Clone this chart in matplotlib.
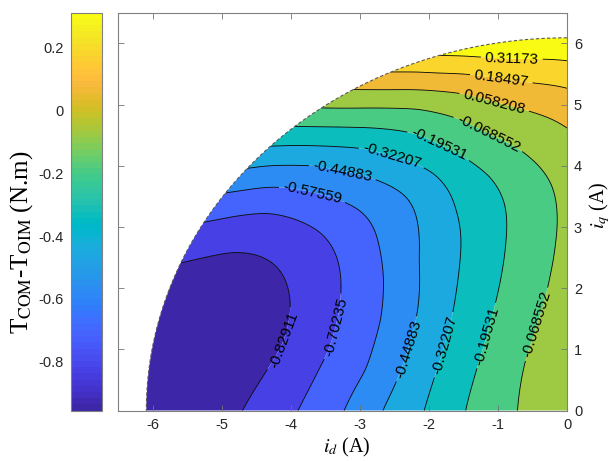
import numpy as np
import matplotlib
matplotlib.use("Agg")
import matplotlib.pyplot as plt
from matplotlib.colors import ListedColormap, Normalize
from matplotlib.patches import Polygon
from matplotlib.ticker import FuncFormatter
import matplotlib.cm as cm

plt.rcParams["font.family"] = ["Liberation Sans", "DejaVu Sans"]
plt.rcParams["axes.unicode_minus"] = False
plt.rcParams["mathtext.fontset"] = "stix"

# ---- contour levels (as labelled) and colour limits ----
levels = [-0.82911, -0.70235, -0.57559, -0.44883, -0.32207,
          -0.19531, -0.068552, 0.058208, 0.18497, 0.31173]
c_min, c_max = -0.95587, 0.31173
i_max = 6.09          # current-limit circle radius (A)

# ---- traced level curves: (i_d, i_q) points on each level ----
l1_id = [-5.60, -4.87, -4.39, -4.05, -4.00, -4.10, -4.34, -4.70]
l1_iq = [2.41, 2.60, 2.49, 2.03, 1.65, 1.10, 0.67, 0.00]
l2_id = [-5.25, -4.82, -4.35, -3.61, -3.32, -3.28, -3.37, -3.61, -3.90]
l2_iq = [3.07, 3.18, 3.24, 2.95, 2.46, 1.97, 1.37, 0.67, 0.00]
l3_id = [-4.92, -4.34, -3.70, -3.00, -2.74, -2.65, -2.69, -2.89, -3.22]
l3_iq = [3.55, 3.66, 3.55, 3.28, 2.74, 2.19, 1.48, 0.67, 0.00]
l4_id = [-4.63, -4.34, -3.66, -3.25, -2.69, -2.31, -2.21, -2.16, -2.16, -2.36, -2.69]
l4_iq = [3.94, 4.01, 4.02, 3.90, 3.74, 3.50, 3.28, 2.46, 1.65, 0.83, 0.00]
l5_id = [-4.30, -3.65, -3.03, -2.54, -2.16, -1.92, -1.68, -1.63, -1.53, -1.61, -1.77, -2.06]
l5_iq = [4.31, 4.32, 4.31, 4.14, 4.02, 3.90, 3.50, 3.28, 2.74, 1.92, 1.10, 0.00]
l6_id = [-3.95, -3.10, -2.31, -1.87, -1.44, -1.10, -0.90, -0.89, -1.00, -1.19, -1.48]
l6_iq = [4.64, 4.62, 4.56, 4.31, 4.10, 3.82, 3.39, 2.74, 1.92, 1.10, 0.00]
l7_id = [-3.54, -2.85, -2.16, -1.63, -1.15, -0.52, -0.23, -0.15, -0.17, -0.25, -0.42, -0.61, -0.71]
l7_iq = [4.94, 4.95, 4.94, 4.80, 4.50, 4.10, 3.72, 3.28, 2.74, 2.19, 1.48, 0.83, 0.00]
l8_id = [-3.10, -2.16, -1.53, -1.05, -0.56, -0.25, 0.00]
l8_iq = [5.24, 5.24, 5.19, 5.05, 4.90, 4.78, 4.62]
l9_id = [-2.58, -2.16, -1.44, -0.95, -0.52, 0.00]
l9_iq = [5.52, 5.54, 5.51, 5.43, 5.35, 5.28]
l10_id = [-1.92, -1.29, -0.80, -0.30, 0.00]
l10_iq = [5.78, 5.76, 5.74, 5.74, 5.73]

# ---- spot values away from the level curves ----
spot_id = [0.00, 0.00, 0.00, 0.00, -6.05, -5.20]
spot_iq = [0.00, 1.50, 3.00, 6.09, 0.50, 1.30]
spot_val = [0.035, -0.01, -0.045, 0.43849, -0.95, -0.93]

# ---- contour label anchor points ----
label_id = [-0.80, -0.95, -1.06, -1.15, -1.87, -2.54, -3.25, -3.69,
            -3.36, -4.12, -2.35, -1.76, -1.15, -0.41]
label_iq = [5.74, 5.43, 5.01, 4.50, 4.31, 4.14, 3.90, 3.54,
            1.37, 1.16, 1.02, 1.07, 1.22, 1.40]

# MATLAB-style parula colour table
parula = [
    (0.2422, 0.1504, 0.6603), (0.2504, 0.1650, 0.7076), (0.2578, 0.1818, 0.7511), (0.2647, 0.1978, 0.7952),
    (0.2706, 0.2147, 0.8364), (0.2751, 0.2342, 0.8710), (0.2783, 0.2559, 0.8991), (0.2803, 0.2782, 0.9221),
    (0.2813, 0.3006, 0.9414), (0.2810, 0.3228, 0.9579), (0.2795, 0.3447, 0.9717), (0.2760, 0.3667, 0.9829),
    (0.2699, 0.3892, 0.9906), (0.2602, 0.4123, 0.9952), (0.2440, 0.4358, 0.9988), (0.2206, 0.4603, 0.9973),
    (0.1963, 0.4847, 0.9892), (0.1834, 0.5074, 0.9798), (0.1786, 0.5289, 0.9682), (0.1764, 0.5499, 0.9520),
    (0.1687, 0.5703, 0.9359), (0.1540, 0.5902, 0.9218), (0.1460, 0.6091, 0.9079), (0.1380, 0.6276, 0.8973),
    (0.1248, 0.6459, 0.8883), (0.1113, 0.6635, 0.8763), (0.0952, 0.6798, 0.8598), (0.0689, 0.6948, 0.8394),
    (0.0297, 0.7082, 0.8163), (0.0036, 0.7203, 0.7917), (0.0067, 0.7312, 0.7660), (0.0433, 0.7411, 0.7394),
    (0.0964, 0.7500, 0.7120), (0.1408, 0.7584, 0.6842), (0.1717, 0.7670, 0.6554), (0.1938, 0.7758, 0.6251),
    (0.2161, 0.7843, 0.5923), (0.2470, 0.7918, 0.5567), (0.2906, 0.7973, 0.5188), (0.3406, 0.8008, 0.4789),
    (0.3909, 0.8029, 0.4354), (0.4456, 0.8024, 0.3909), (0.5044, 0.7993, 0.3480), (0.5616, 0.7942, 0.3045),
    (0.6174, 0.7876, 0.2612), (0.6720, 0.7793, 0.2227), (0.7242, 0.7698, 0.1910), (0.7738, 0.7598, 0.1646),
    (0.8203, 0.7498, 0.1535), (0.8634, 0.7406, 0.1596), (0.9035, 0.7330, 0.1774), (0.9393, 0.7288, 0.2100),
    (0.9728, 0.7298, 0.2394), (0.9956, 0.7434, 0.2371), (0.9970, 0.7659, 0.2199), (0.9952, 0.7893, 0.2028),
    (0.9892, 0.8136, 0.1885), (0.9786, 0.8386, 0.1766), (0.9676, 0.8639, 0.1643), (0.9610, 0.8890, 0.1537),
    (0.9597, 0.9135, 0.1423), (0.9628, 0.9373, 0.1265), (0.9691, 0.9606, 0.1064), (0.9769, 0.9839, 0.0805),
]
cmap = ListedColormap(parula, name="parula")

# ---- smooth surface through the traced level points (thin-plate spline) ----
traces = [(l1_id, l1_iq), (l2_id, l2_iq), (l3_id, l3_iq), (l4_id, l4_iq), (l5_id, l5_iq),
          (l6_id, l6_iq), (l7_id, l7_iq), (l8_id, l8_iq), (l9_id, l9_iq), (l10_id, l10_iq)]
px, py, pz = [], [], []
for lev, (tx, ty) in zip(levels, traces):
    px += tx
    py += ty
    pz += [lev] * len(tx)
px = np.array(px + spot_id, float)
py = np.array(py + spot_iq, float)
pz = np.array(pz + spot_val, float)


def tps_kernel(r):
    with np.errstate(divide="ignore", invalid="ignore"):
        k = r ** 2 * np.log(r)
    return np.where(r > 0, k, 0.0)


n = len(px)
d = np.hypot(px[:, None] - px[None, :], py[:, None] - py[None, :])
A = np.zeros((n + 3, n + 3))
A[:n, :n] = tps_kernel(d) + 0.2 * np.eye(n)
P = np.column_stack([np.ones(n), px, py])
A[:n, n:] = P
A[n:, :n] = P.T
coef = np.linalg.solve(A, np.concatenate([pz, np.zeros(3)]))
w, a = coef[:n], coef[n:]

gid = np.linspace(-6.5, 0.0, 330)
giq = np.linspace(0.0, 6.5, 330)
ID, IQ = np.meshgrid(gid, giq)
Z = a[0] + a[1] * ID + a[2] * IQ
for k in range(n):
    Z += w[k] * tps_kernel(np.hypot(ID - px[k], IQ - py[k]))

# ---- figure ----
fig = plt.figure(figsize=(6.14, 4.61), dpi=100)
ax = fig.add_axes([118 / 614, 1 - 410.7 / 461, 449 / 614, 398 / 461])
cax = fig.add_axes([71 / 614, 1 - 410.7 / 461, 30.7 / 614, 398 / 461])

norm = Normalize(c_min, c_max)
band_edges = [-50.0] + levels + [50.0]
band_colors = [cmap(norm(v)) for v in [c_min] + levels]

theta = np.linspace(np.pi / 2, np.pi, 400)
sector = np.vstack([[0.0, 0.0], np.column_stack([i_max * np.cos(theta), i_max * np.sin(theta)])])
clip = Polygon(sector, closed=True, transform=ax.transData, facecolor="none", edgecolor="none")

cf = ax.contourf(ID, IQ, Z, levels=band_edges, colors=band_colors, antialiased=True)
cf.set_clip_path(clip)
cl = ax.contour(ID, IQ, Z, levels=levels, colors="k", linewidths=0.6, linestyles="solid")
cl.set_clip_path(clip)
ax.clabel(cl, levels, inline=True, inline_spacing=4, fontsize=11,
          fmt=lambda v: f"{v:.5g}", manual=list(zip(label_id, label_iq)))

ax.plot(i_max * np.cos(theta), i_max * np.sin(theta), color="0.35", lw=0.8,
        ls=(0, (3, 2)))

ax.set_xlim(-6.5, 0)
ax.set_ylim(0, 6.5)
ax.set_xticks([-6, -5, -4, -3, -2, -1, 0])
ax.set_yticks([0, 1, 2, 3, 4, 5, 6])
ax.yaxis.tick_right()
ax.tick_params(which="both", direction="in", length=4, width=0.6, colors="0.45",
               labelcolor="#262626", labelsize=10.5, top=True, left=True, right=True,
               bottom=True, pad=5)
for s in ax.spines.values():
    s.set_color("0.5")
    s.set_linewidth(0.8)

fig.text(347 / 614, 1 - 452 / 461, r"$i_d$ (A)", family="Liberation Serif",
         fontsize=14.5, ha="center", va="baseline")
fig.text(600 / 614, 1 - 205 / 461, r"$i_q$ (A)", family="Liberation Serif",
         fontsize=14.5, ha="center", va="center", rotation=90)

cb = fig.colorbar(cm.ScalarMappable(norm=norm, cmap=cmap), cax=cax)
cb.set_ticks([0.2, 0, -0.2, -0.4, -0.6, -0.8])
cb.ax.yaxis.set_major_formatter(FuncFormatter(lambda v, p: f"{v:g}"))
cb.ax.yaxis.set_ticks_position("left")
cb.ax.tick_params(direction="in", length=0, labelcolor="#262626", labelsize=10.5, pad=5)
cb.outline.set_edgecolor("0.5")
cb.outline.set_linewidth(0.8)
fig.text(22 / 614, 1 - 242 / 461, r"T$_{\mathrm{COM}}$-T$_{\mathrm{OIM}}$ (N.m)",
         family="Liberation Serif", fontsize=18, ha="center", va="center", rotation=90)

fig.savefig("out.png", dpi=100)
